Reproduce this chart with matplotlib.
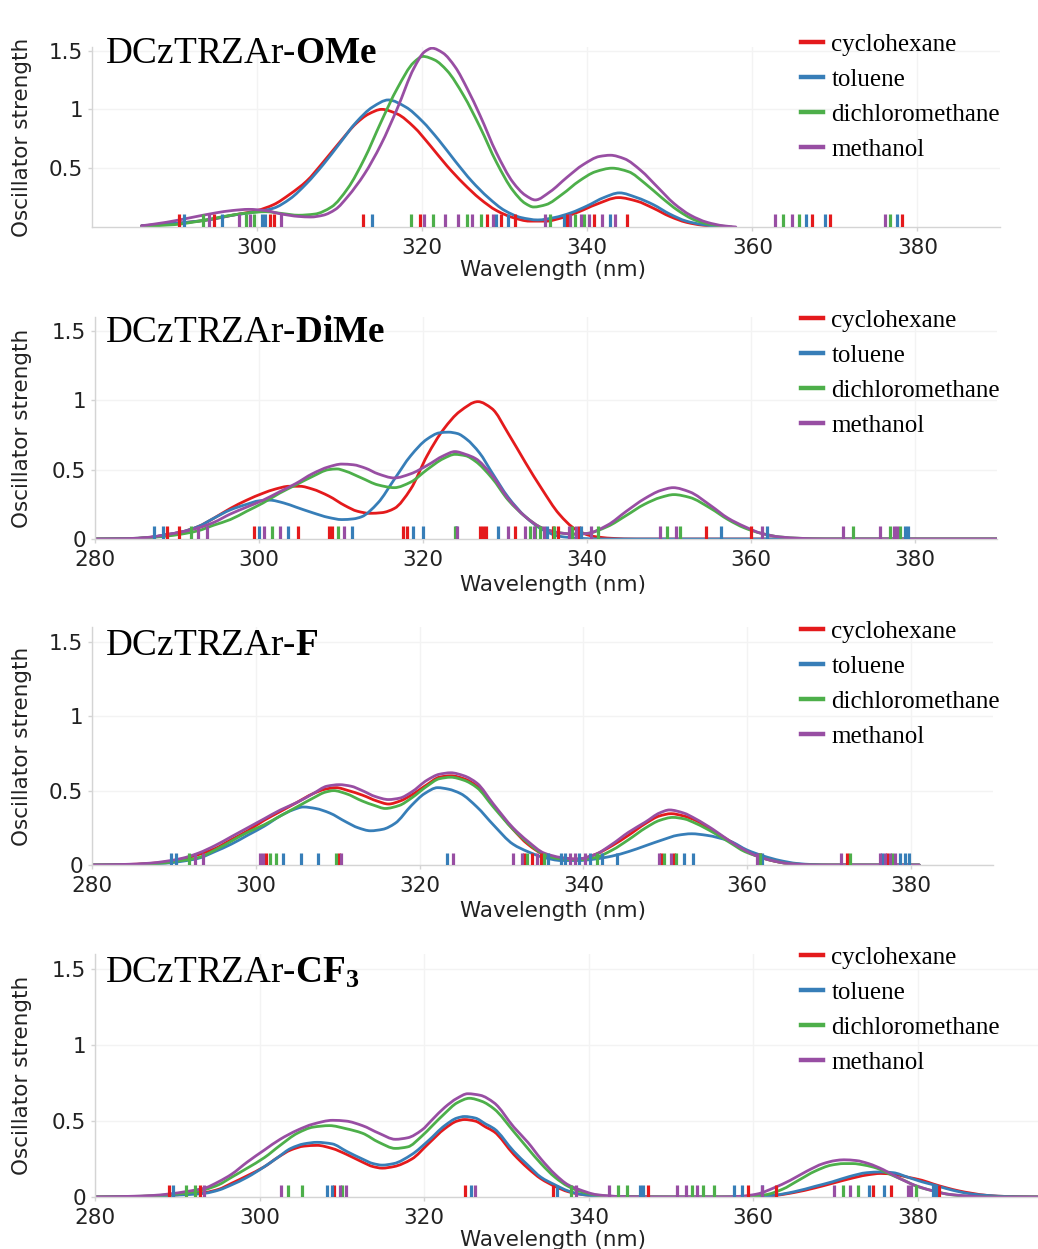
import numpy as np
import matplotlib
matplotlib.use('Agg')
import matplotlib.pyplot as plt
from matplotlib.path import Path
from matplotlib.patches import PathPatch
from matplotlib.lines import Line2D

plt.rcParams['mathtext.fontset'] = 'custom'
plt.rcParams['mathtext.rm'] = 'Liberation Serif'
plt.rcParams['mathtext.bf'] = 'Liberation Serif:bold'
plt.rcParams['mathtext.it'] = 'Liberation Serif:italic'

solvents = ['cyclohexane', 'toluene', 'dichloromethane', 'methanol']
colors = ['#e41a1c', '#377eb8', '#4daf4a', '#984ea3']
titles = [r'DCzTRZAr-$\mathbf{OMe}$', r'DCzTRZAr-$\mathbf{DiMe}$',
          r'DCzTRZAr-$\mathbf{F}$', r'DCzTRZAr-$\mathbf{CF_3}$']
xtick_vals = [280, 300, 320, 340, 360, 380]
ytick_vals = [0, 0.5, 1, 1.5]
ytick_text = ['0', '0.5', '1', '1.5']

# ---------------- DCzTRZAr-OMe ----------------
ome_x_cyc = [286, 290, 294, 297, 300, 302, 304, 306, 308, 310, 312, 313.5, 315.1, 317, 319, 321, 323, 325, 327, 329,
             331, 333, 335, 337, 339, 341, 343.8, 346, 348, 350, 352, 354, 356.5]
ome_y_cyc = [0.01, 0.03, 0.06, 0.10, 0.14, 0.19, 0.28, 0.39, 0.55, 0.72, 0.88, 0.96, 1.00, 0.96, 0.85, 0.69, 0.52, 0.37, 0.24, 0.14,
             0.08, 0.05, 0.05, 0.08, 0.13, 0.19, 0.25, 0.22, 0.16, 0.09, 0.04, 0.015, 0.0]
ome_x_tol = [286, 290, 294, 297, 300, 302, 304, 306, 308, 310, 312, 314, 315.9, 318, 320, 322, 324, 326, 328, 330,
             332, 334, 336, 338, 340, 342, 343.9, 346, 348, 350, 352, 354, 356.5]
ome_y_tol = [0.01, 0.03, 0.06, 0.10, 0.13, 0.16, 0.24, 0.37, 0.53, 0.71, 0.89, 1.02, 1.08, 1.02, 0.90, 0.74, 0.56, 0.39, 0.25, 0.14,
             0.08, 0.06, 0.08, 0.12, 0.18, 0.25, 0.29, 0.25, 0.19, 0.11, 0.05, 0.02, 0.0]
ome_x_dcm = [286, 290, 293, 296, 299, 301, 303, 305, 307, 309, 311, 313, 315, 317, 319, 320.1, 321.5, 323, 325, 327,
             329, 331, 332.5, 333.5, 335, 337, 339, 341, 343, 345, 347, 349, 351, 353, 355, 357.5]
ome_y_dcm = [0.005, 0.02, 0.05, 0.09, 0.12, 0.13, 0.115, 0.10, 0.11, 0.17, 0.33, 0.58, 0.89, 1.18, 1.40, 1.45, 1.42, 1.33, 1.12, 0.85,
             0.55, 0.31, 0.20, 0.17, 0.19, 0.28, 0.39, 0.47, 0.50, 0.47, 0.37, 0.25, 0.14, 0.06, 0.02, 0.0]
ome_x_met = [286, 289, 292, 295, 297, 299, 301, 303, 305, 306.5, 308, 309.5, 311, 313, 315, 317, 319, 320.3, 321.2, 322.5,
             324, 325.5, 327, 329, 331, 332.5, 333.7, 335.5, 337.5, 339.5, 341.5, 342.8, 344.5, 346.5, 348.5, 350.5, 352.5,
             354.5, 356.5, 358]
ome_y_met = [0.01, 0.04, 0.08, 0.12, 0.14, 0.15, 0.14, 0.11, 0.09, 0.085, 0.10, 0.15, 0.26, 0.45, 0.70, 1.01, 1.35, 1.49, 1.52, 1.48,
             1.36, 1.17, 0.95, 0.63, 0.38, 0.27, 0.23, 0.30, 0.42, 0.53, 0.60, 0.61, 0.58, 0.48, 0.34, 0.20, 0.10,
             0.04, 0.01, 0.0]
ome_rug_cyc = [290.6, 294.8, 301.6, 302.0, 312.8, 319.7, 327.8, 329.6, 331.3, 337.6, 340.8, 344.8, 367.2, 369.4, 378.1]
ome_rug_tol = [291.1, 295.7, 300.6, 301.0, 313.9, 329.0, 330.4, 337.2, 342.8, 366.5, 368.8, 377.5]
ome_rug_dcm = [293.4, 298.6, 299.6, 318.7, 321.3, 325.4, 327.1, 335.5, 338.5, 339.6, 363.7, 365.7, 376.7]
ome_rug_met = [294.2, 297.8, 299.1, 302.9, 320.2, 322.8, 324.3, 326.0, 328.6, 334.9, 337.9, 339.2, 340.2, 341.8, 343.4,
               362.8, 364.8, 376.1]

# ---------------- DCzTRZAr-DiMe ----------------
dime_x_cyc = [280, 284, 286.5, 288.6, 290.5, 292.6, 294.5, 296.5, 298.5, 300.5, 302, 303.7, 305, 306.5, 308.5, 310.5, 312,
              313.5, 315, 316.5, 318.5, 320.5, 322.5, 324.5, 326.7, 328.4, 330.4, 332.5, 334.5, 336.6, 338.6, 340.7, 343,
              346, 390]
dime_y_cyc = [0, 0.002, 0.01, 0.03, 0.05, 0.09, 0.15, 0.22, 0.28, 0.33, 0.36, 0.38, 0.38, 0.36, 0.31, 0.24, 0.20,
              0.185, 0.19, 0.22, 0.36, 0.60, 0.79, 0.92, 0.99, 0.94, 0.76, 0.55, 0.36, 0.18, 0.07, 0.02, 0.005,
              0, 0]
dime_x_tol = [280, 284, 286.5, 288.6, 290.5, 292.6, 294.5, 296.5, 298.5, 300, 301.3, 303, 304.5, 306.5, 308.5, 310.1,
              311.5, 312.5, 314.5, 316.5, 318.5, 320.5, 322, 323.1, 324.2, 325.3, 326.9, 328.4, 330.4, 332.5, 334.5,
              336.6, 339, 342, 390]
dime_y_tol = [0, 0.003, 0.01, 0.03, 0.05, 0.09, 0.15, 0.21, 0.25, 0.275, 0.28, 0.26, 0.23, 0.19, 0.155, 0.14,
              0.145, 0.16, 0.26, 0.43, 0.60, 0.72, 0.765, 0.77, 0.76, 0.72, 0.62, 0.48, 0.30, 0.16, 0.07,
              0.02, 0.005, 0, 0]
dime_x_dcm = [280, 284, 286.5, 288.6, 290.5, 292.6, 294.5, 296.5, 298.5, 300.5, 302.5, 304.5, 306.5, 308.5, 309.5,
              310.5, 312.5, 314.5, 316.5, 318.5, 320.5, 322.5, 323.9, 325.2, 326.4, 328.4, 330.4, 332.5, 334.5, 336.6,
              338.5, 340, 342.5, 344.8, 347, 349, 350.6, 352.5, 355.1, 357.2, 359.2, 361.3, 363.5, 366, 369, 390]
dime_y_dcm = [0, 0.003, 0.01, 0.02, 0.035, 0.06, 0.10, 0.14, 0.20, 0.26, 0.33, 0.39, 0.45, 0.50, 0.505,
              0.49, 0.44, 0.39, 0.37, 0.41, 0.50, 0.58, 0.61, 0.60, 0.56, 0.44, 0.28, 0.16, 0.08, 0.045,
              0.035, 0.04, 0.09, 0.17, 0.25, 0.30, 0.32, 0.30, 0.22, 0.14, 0.08, 0.04, 0.015, 0.005, 0, 0]
dime_x_met = [280, 284, 286.5, 288.6, 290.5, 292.6, 294.5, 296.5, 298.5, 300.5, 302.5, 304.5, 306.5, 308.5, 310.1,
              311.5, 313, 314.5, 316.5, 318.5, 320.5, 322.5, 323.9, 325.2, 326.4, 328.4, 330.4, 332.5, 334.5, 336.6,
              338.5, 340, 342.5, 344.8, 347, 349, 350.5, 352.5, 355.1, 357.2, 359.2, 361.3, 363.5, 366, 369, 390]
dime_y_met = [0, 0.003, 0.012, 0.03, 0.05, 0.08, 0.12, 0.18, 0.23, 0.28, 0.34, 0.40, 0.47, 0.52, 0.54,
              0.535, 0.51, 0.47, 0.44, 0.47, 0.53, 0.60, 0.63, 0.61, 0.58, 0.46, 0.29, 0.16, 0.08, 0.045,
              0.035, 0.04, 0.10, 0.20, 0.29, 0.35, 0.37, 0.34, 0.24, 0.15, 0.09, 0.04, 0.015, 0.005, 0, 0]
dime_rug_cyc = [288.8, 290.3, 299.4, 304.7, 308.5, 308.9, 317.5, 318.0, 326.9, 327.3, 327.7, 331.2, 335.8, 336.5,
                339.0, 354.5, 360.0]
dime_rug_tol = [287.2, 288.3, 300.0, 303.5, 311.3, 318.8, 320.0, 324.0, 329.2, 335.1, 339.3, 356.4, 361.9, 378.8, 379.2]
dime_rug_dcm = [291.7, 301.6, 309.6, 323.9, 333.1, 333.7, 334.3, 336.0, 338.2, 341.4, 349.8, 351.4, 372.5, 376.9, 378.2]
dime_rug_met = [292.5, 293.6, 300.6, 302.5, 310.4, 324.2, 330.4, 332.4, 333.5, 334.8, 337.8, 338.6, 340.5, 348.9,
                350.8, 361.3, 371.2, 375.7, 377.4, 377.8]

# ---------------- DCzTRZAr-F ----------------
f_x_cyc = [280, 284, 287, 289, 291, 293, 295, 297, 299, 301, 303, 305, 307, 308.5, 309.8, 311.3, 313, 314.8, 316.2, 317.6,
           319, 320.9, 322.4, 323.8, 325.4, 327, 329, 331.4, 333.2, 335.2, 337.3, 339.4, 341.4, 343.5, 345.5, 347.6,
           349.3, 350.7, 352.2, 353.7, 355.8, 357.9, 359.7, 361.2, 363, 365, 367, 369, 381]
f_y_cyc = [0, 0.003, 0.01, 0.02, 0.04, 0.07, 0.11, 0.17, 0.23, 0.30, 0.36, 0.42, 0.48, 0.51, 0.52, 0.50, 0.47, 0.43, 0.41, 0.43,
           0.47, 0.54, 0.59, 0.60, 0.58, 0.53, 0.40, 0.24, 0.14, 0.07, 0.04, 0.04, 0.07, 0.13, 0.20, 0.28,
           0.33, 0.345, 0.33, 0.30, 0.23, 0.16, 0.10, 0.06, 0.03, 0.01, 0.003, 0, 0]
f_x_tol = [280, 284, 287, 289, 291, 293, 295, 297, 299, 301, 303, 304.5, 305.8, 307.3, 309, 311, 312.5, 314, 315.5, 317,
           319, 320.6, 322.2, 323.5, 325, 327, 329, 331.4, 333.2, 335.2, 337.3, 339.4, 341.4, 343.5, 345.5, 347.6,
           349.7, 351.5, 353.2, 355, 357.9, 360, 362, 364, 366.1, 368, 370, 381]
f_y_tol = [0, 0.002, 0.007, 0.012, 0.025, 0.045, 0.09, 0.14, 0.20, 0.26, 0.33, 0.37, 0.39, 0.38, 0.35, 0.29, 0.25, 0.23, 0.24, 0.28,
           0.40, 0.48, 0.52, 0.51, 0.48, 0.39, 0.27, 0.14, 0.09, 0.05, 0.03, 0.03, 0.04, 0.06, 0.09, 0.13,
           0.17, 0.20, 0.21, 0.20, 0.16, 0.10, 0.06, 0.03, 0.01, 0.003, 0, 0]
f_x_dcm = [280, 284, 287, 289, 291, 293, 295, 297, 299, 301, 303, 305, 307, 308.5, 309.5, 311, 313, 314.5, 315.8, 317.5,
           319, 320.9, 322.4, 323.8, 325.4, 327, 329, 331.4, 333.2, 335.2, 337.3, 339.4, 341.4, 343.5, 345.5, 347.6,
           349.3, 350.9, 352.3, 353.7, 355.8, 357.9, 359.7, 361.2, 363, 365, 367, 369, 381]
f_y_dcm = [0, 0.002, 0.008, 0.015, 0.03, 0.05, 0.10, 0.16, 0.22, 0.27, 0.33, 0.39, 0.45, 0.49, 0.50, 0.48, 0.43, 0.40, 0.38, 0.40,
           0.45, 0.53, 0.58, 0.59, 0.57, 0.52, 0.39, 0.24, 0.15, 0.07, 0.04, 0.035, 0.05, 0.10, 0.17, 0.25,
           0.30, 0.32, 0.31, 0.28, 0.22, 0.15, 0.09, 0.06, 0.03, 0.01, 0.003, 0, 0]
f_x_met = [280, 284, 287, 289, 291, 293, 295, 297, 299, 301, 303, 305, 307, 308.7, 310.2, 311.6, 313, 314.6, 316.2, 317.6,
           319, 320.9, 322.4, 323.8, 325.4, 327, 329, 331.4, 333.2, 335.2, 337.3, 339.2, 341.4, 343.5, 345.5, 347.6,
           349.3, 350.5, 352.2, 353.7, 355.8, 357.9, 359.7, 361.2, 363, 365, 367, 369, 381]
f_y_met = [0, 0.004, 0.012, 0.025, 0.045, 0.08, 0.13, 0.19, 0.25, 0.31, 0.37, 0.42, 0.48, 0.53, 0.54, 0.53, 0.50, 0.46, 0.44, 0.45,
           0.49, 0.57, 0.61, 0.62, 0.60, 0.55, 0.41, 0.25, 0.16, 0.08, 0.05, 0.04, 0.07, 0.14, 0.22, 0.29,
           0.35, 0.37, 0.35, 0.31, 0.24, 0.16, 0.10, 0.06, 0.03, 0.01, 0.003, 0, 0]
f_rug_cyc = [301.3, 310.1, 332.8, 333.7, 334.8, 349.5, 351.1, 361.5, 372.2, 377.1]
f_rug_tol = [289.6, 290.2, 303.3, 305.5, 307.6, 323.4, 335.7, 337.2, 337.8, 339.5, 340.8, 342.3, 344.1, 352.3, 353.4,
             361.8, 376.5, 378.6, 379.2, 379.8]
f_rug_dcm = [291.9, 301.7, 302.5, 309.8, 333.1, 335.2, 341.6, 349.8, 351.3, 361.6, 372.6, 377.7]
f_rug_met = [292.6, 293.5, 300.5, 300.9, 310.4, 324.1, 331.4, 332.5, 334.3, 338.4, 339.0, 340.2, 349.2, 350.7, 361.2,
             371.4, 376.2, 376.8, 377.4, 378.0]

# ---------------- DCzTRZAr-CF3 ----------------
cf3_x_cyc = [280, 284, 287, 289, 291, 293.4, 295, 296.6, 298.5, 300.6, 302.2, 303.8, 305.4, 307, 308.8, 310.6, 312.5,
             313.8, 314.9, 316.3, 318.5, 320.5, 322.5, 324, 324.9, 326.2, 327.5, 328.5, 330.9, 332.6, 334.2, 335.9,
             337.5, 338.8, 341, 344, 350, 358, 360.5, 362.6, 365, 367.5, 369.6, 371.7, 373.8, 375.5, 377, 378.8,
             380.5, 381.9, 383.5, 385, 386.5, 388.5, 391, 394.6]
cf3_y_cyc = [0, 0.002, 0.006, 0.01, 0.02, 0.03, 0.05, 0.09, 0.14, 0.20, 0.26, 0.31, 0.335, 0.34, 0.32, 0.28, 0.23,
             0.20, 0.19, 0.20, 0.25, 0.35, 0.45, 0.50, 0.51, 0.50, 0.46, 0.43, 0.28, 0.19, 0.12, 0.07,
             0.035, 0.02, 0.006, 0.001, 0, 0, 0.003, 0.01, 0.03, 0.06, 0.09, 0.12, 0.145, 0.155, 0.15, 0.13,
             0.11, 0.085, 0.06, 0.04, 0.025, 0.01, 0.003, 0]
cf3_x_tol = [280, 284, 287, 289, 291, 293.4, 295, 296.6, 298.5, 300.6, 302.2, 303.8, 305.4, 307, 308.8, 310.6, 312.5,
             313.8, 314.9, 316.3, 318.5, 320.5, 322.5, 324, 324.9, 326.2, 327.5, 328.5, 330.9, 332.6, 334.2, 335.9,
             337.5, 338.8, 341, 344, 350, 358, 360.5, 362.6, 365, 367.5, 369.6, 371.7, 373.8, 375.5, 377, 378.8,
             380.5, 381.9, 383.5, 385, 386.5, 388.5, 391, 394.6]
cf3_y_tol = [0, 0.002, 0.005, 0.01, 0.015, 0.025, 0.045, 0.08, 0.13, 0.20, 0.26, 0.32, 0.35, 0.36, 0.35, 0.30, 0.25,
             0.22, 0.21, 0.22, 0.28, 0.37, 0.47, 0.52, 0.53, 0.52, 0.48, 0.45, 0.30, 0.21, 0.13, 0.08,
             0.04, 0.02, 0.006, 0.001, 0, 0, 0.004, 0.012, 0.035, 0.07, 0.10, 0.135, 0.16, 0.165, 0.16, 0.13,
             0.10, 0.08, 0.055, 0.035, 0.02, 0.01, 0.003, 0]
cf3_x_dcm = [280, 284, 287, 289, 291, 293.4, 295, 296.6, 298.5, 300.6, 302.5, 304.6, 306.5, 308.5, 310.5, 312.5, 314.5,
             316.5, 318, 319.7, 321, 322.5, 324, 325.5, 327, 328.5, 330.9, 332.6, 334.2, 335.9, 337.5, 338.8, 341,
             344, 350, 357, 359.5, 361.5, 363.5, 365.5, 367.5, 369.5, 371, 372.1, 373.5, 375, 376.6, 378.3, 379.9,
             381.9, 384, 386, 389, 394.6]
cf3_y_dcm = [0, 0.003, 0.008, 0.015, 0.025, 0.05, 0.08, 0.13, 0.19, 0.26, 0.34, 0.42, 0.46, 0.47, 0.45, 0.42, 0.36,
             0.32, 0.33, 0.40, 0.47, 0.55, 0.62, 0.65, 0.63, 0.58, 0.43, 0.32, 0.22, 0.13, 0.07, 0.04, 0.012,
             0.002, 0, 0, 0.005, 0.015, 0.05, 0.11, 0.17, 0.21, 0.22, 0.22, 0.21, 0.19, 0.15, 0.11, 0.07,
             0.04, 0.015, 0.005, 0, 0]
cf3_x_met = [280, 284, 287, 289, 291, 293.4, 295, 296.6, 298.5, 300.6, 302.5, 304.6, 306.5, 308.9, 310.5, 312.5, 314.5,
             316.5, 318, 319.7, 321, 322.5, 324, 325.3, 326.8, 328.5, 330.9, 332.6, 334.2, 335.9, 337.5, 338.8, 341,
             344, 350, 356, 358.5, 360.5, 362.5, 364.5, 366.5, 368.5, 370, 371, 372.5, 374, 375.8, 377.5, 379.5,
             381.5, 383.5, 386, 389, 394.6]
cf3_y_met = [0, 0.004, 0.01, 0.02, 0.035, 0.06, 0.10, 0.15, 0.23, 0.31, 0.38, 0.44, 0.48, 0.505, 0.50, 0.47, 0.42,
             0.38, 0.39, 0.44, 0.51, 0.59, 0.65, 0.68, 0.67, 0.62, 0.46, 0.36, 0.25, 0.15, 0.08, 0.05, 0.015,
             0.003, 0, 0, 0.005, 0.02, 0.06, 0.11, 0.17, 0.22, 0.24, 0.245, 0.24, 0.22, 0.18, 0.13, 0.08,
             0.045, 0.02, 0.007, 0, 0]
cf3_rug_cyc = [289.0, 292.7, 309.1, 325.0, 335.7, 347.2, 359.4, 362.7, 374.6, 376.7, 382.6]
cf3_rug_tol = [289.5, 308.2, 308.8, 325.7, 336.1, 346.2, 346.6, 357.6, 358.6, 361.0, 374.1, 375.9, 381.8, 382.2]
cf3_rug_dcm = [291.0, 292.1, 303.5, 305.2, 310.0, 337.9, 343.5, 344.6, 352.5, 353.9, 355.2, 370.9, 372.7, 379.8]
cf3_rug_met = [293.2, 302.6, 309.8, 310.5, 326.2, 338.5, 342.5, 350.7, 351.8, 353.1, 361.1, 369.8, 371.8, 378.8, 379.2]

curve_sets = [
    [(ome_x_cyc, ome_y_cyc), (ome_x_tol, ome_y_tol), (ome_x_dcm, ome_y_dcm), (ome_x_met, ome_y_met)],
    [(dime_x_cyc, dime_y_cyc), (dime_x_tol, dime_y_tol), (dime_x_dcm, dime_y_dcm), (dime_x_met, dime_y_met)],
    [(f_x_cyc, f_y_cyc), (f_x_tol, f_y_tol), (f_x_dcm, f_y_dcm), (f_x_met, f_y_met)],
    [(cf3_x_cyc, cf3_y_cyc), (cf3_x_tol, cf3_y_tol), (cf3_x_dcm, cf3_y_dcm), (cf3_x_met, cf3_y_met)],
]
rug_sets = [
    [ome_rug_cyc, ome_rug_tol, ome_rug_dcm, ome_rug_met],
    [dime_rug_cyc, dime_rug_tol, dime_rug_dcm, dime_rug_met],
    [f_rug_cyc, f_rug_tol, f_rug_dcm, f_rug_met],
    [cf3_rug_cyc, cf3_rug_tol, cf3_rug_dcm, cf3_rug_met],
]


def smooth_path(x, y):
    """Monotone cubic Bezier path through the read-off points (drawing only)."""
    x = np.asarray(x, float)
    y = np.asarray(y, float)
    h = np.diff(x)
    d = np.diff(y) / h
    m = np.zeros_like(x)
    for i in range(1, len(x) - 1):
        if d[i - 1] * d[i] > 0:
            w1 = 2 * h[i] + h[i - 1]
            w2 = h[i] + 2 * h[i - 1]
            m[i] = (w1 + w2) / (w1 / d[i - 1] + w2 / d[i])
    m[0] = d[0]
    m[-1] = d[-1]
    verts = [(x[0], y[0])]
    codes = [Path.MOVETO]
    for i in range(len(h)):
        verts.append((x[i] + h[i] / 3, y[i] + m[i] * h[i] / 3))
        verts.append((x[i + 1] - h[i] / 3, y[i + 1] - m[i + 1] * h[i] / 3))
        verts.append((x[i + 1], y[i + 1]))
        codes += [Path.CURVE4] * 3
    return Path(verts, codes)


W, H = 1038, 1249
fig = plt.figure(figsize=(W / 100, H / 100), dpi=100)


def rect(l, t, r, b):
    return [l / W, 1 - b / H, (r - l) / W, (b - t) / H]


# layout: box (l, t, r, b) in px, xlim max, ylim max, rug height, title baseline, legend first row, xlabel y
layout = [
    dict(box=(92, 47, 1000, 227), xmax=390, ymax=1.53, rug=0.113, title_y=63, leg_y=44, xl_y=270, full=False),
    dict(box=(95, 317, 997, 539), xmax=390, ymax=1.6, rug=0.094, title_y=342, leg_y=320, xl_y=585, full=True),
    dict(box=(92, 627, 993, 865), xmax=390, ymax=1.6, rug=0.083, title_y=655, leg_y=631, xl_y=911, full=True),
    dict(box=(95, 954, 1038, 1197), xmax=394.6, ymax=1.6, rug=0.082, title_y=983, leg_y=957, xl_y=1240, full=True),
]

tick_color = '#222222'
spine_color = '#d4d4d4'

for k, lay in enumerate(layout):
    l, t, r, b = lay['box']
    ax = fig.add_axes(rect(l, t, r, b))
    ax.set_xlim(280, lay['xmax'])
    ax.set_ylim(0, lay['ymax'])
    for s in ['top', 'right']:
        ax.spines[s].set_visible(False)
    for s in ['left', 'bottom']:
        ax.spines[s].set_color(spine_color)
        ax.spines[s].set_linewidth(1.0)
    ax.grid(True, color='#f3f3f3', lw=1.0)
    ax.set_axisbelow(True)
    if lay['full']:
        ax.set_xticks(xtick_vals, [str(v) for v in xtick_vals])
        ax.set_yticks(ytick_vals, ytick_text)
    else:
        ax.set_xticks(xtick_vals[1:], [str(v) for v in xtick_vals[1:]])
        ax.set_yticks(ytick_vals[1:], ytick_text[1:])
    ax.tick_params(axis='both', labelsize=15.5, labelcolor=tick_color, color=spine_color,
                   length=3, width=1.0)
    ax.tick_params(axis='x', pad=5)
    ax.tick_params(axis='y', pad=3.5)

    for (cx, cy), c in zip(curve_sets[k], colors):
        ax.add_patch(PathPatch(smooth_path(cx, cy), facecolor='none', edgecolor=c, lw=2.0,
                               joinstyle='round', capstyle='round', zorder=2))
    for rug, c in zip(rug_sets[k], colors):
        ax.vlines(rug, 0, lay['rug'], colors=c, lw=2.3, zorder=3)

    ax.set_xlabel('Wavelength (nm)', fontsize=15.5, color=tick_color, va='center')
    ax.xaxis.set_label_coords((553 - l) / (r - l), (b - lay['xl_y']) / (b - t))
    ax.set_ylabel('Oscillator strength', fontsize=15.5, color=tick_color, va='center')
    ax.yaxis.set_label_coords((22 - l) / (r - l), 0.5)

    fig.text(105 / W, 1 - lay['title_y'] / H, titles[k], fontsize=26.8, family='Liberation Serif',
             va='baseline', ha='left', color='black')

    handles = [Line2D([], [], color=c, lw=3.2) for c in colors]
    ax.legend(handles, solvents, loc='upper left',
              bbox_to_anchor=(801 / W, 1 - (lay['leg_y'] - 10.5) / H), bbox_transform=fig.transFigure,
              frameon=False, borderpad=0, borderaxespad=0, handlelength=0.86, handletextpad=0.36,
              labelspacing=0.5, prop={'family': 'Liberation Serif', 'size': 18})

fig.savefig('out.png', dpi=100)
